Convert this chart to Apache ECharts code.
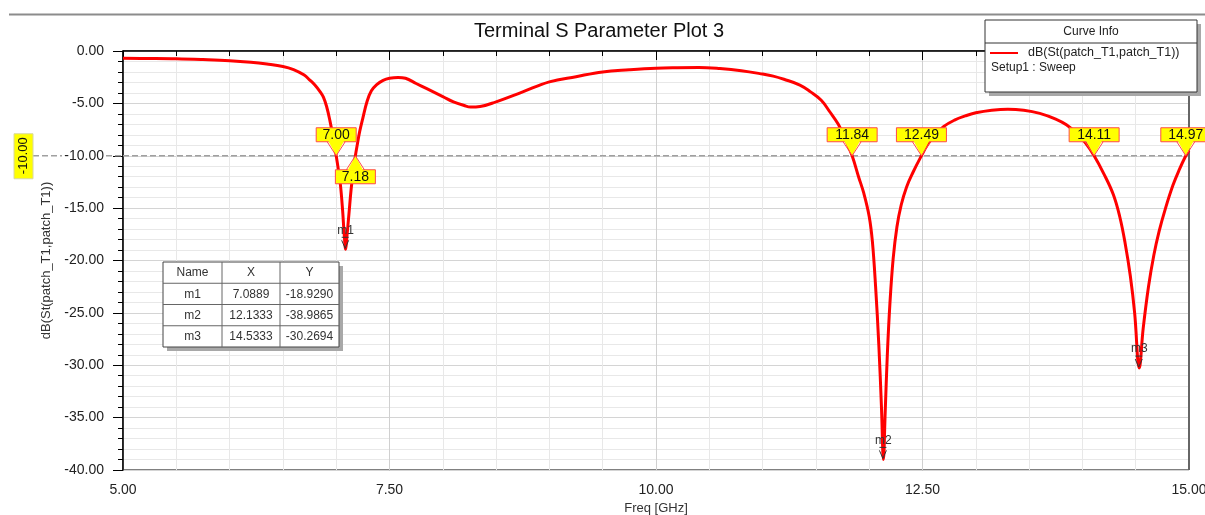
<!DOCTYPE html>
<html>
<head>
<meta charset="utf-8">
<script src="https://cdn.jsdelivr.net/npm/echarts@6/dist/echarts.min.js"></script>
<style>
  html, body { margin: 0; padding: 0; background: #fff; }
  #chart { width: 1205px; height: 515px; }
</style>
</head>
<body>
<div id="chart"></div>
<script>
const FONT = '"Liberation Sans", Arial, Helvetica, sans-serif';

// Swept reflection trace: frequency (GHz) and magnitude (dB)
const freqGHz = [
  5.0, 5.25, 5.5, 5.75, 6.0, 6.2, 6.35, 6.5, 6.6, 6.7, 6.75, 6.8, 6.85, 6.88, 6.91, 6.94, 6.97,
  7.0, 7.02, 7.04, 7.06, 7.075, 7.0889, 7.10, 7.12, 7.14, 7.16, 7.18, 7.2, 7.22, 7.25, 7.29,
  7.33, 7.38, 7.44, 7.5, 7.58, 7.65, 7.75, 7.85, 8.0, 8.1, 8.2, 8.26, 8.35, 8.5, 8.75, 9.0,
  9.25, 9.5, 9.75, 10.0, 10.2, 10.4, 10.6, 10.8, 11.0, 11.1, 11.2, 11.35, 11.45, 11.55, 11.63,
  11.71, 11.78, 11.84, 11.9, 11.95, 12.0, 12.03, 12.06, 12.09, 12.115, 12.1333, 12.15, 12.17,
  12.195, 12.225, 12.26, 12.3, 12.35, 12.41, 12.49, 12.55, 12.62, 12.7, 12.8, 12.9, 13.0,
  13.15, 13.3, 13.45, 13.6, 13.75, 13.85, 13.95, 14.03, 14.11, 14.2, 14.29, 14.35, 14.4, 14.45,
  14.49, 14.5333, 14.57, 14.62, 14.67, 14.72, 14.78, 14.85, 14.91, 14.97, 15.0
];
const s11dB = [
  -0.70, -0.71, -0.74, -0.82, -0.93, -1.08, -1.25, -1.48, -1.78, -2.3, -2.75, -3.25, -3.9, -4.4, -5.3, -6.6, -8.2,
  -10.0, -11.3, -12.8, -15.2, -17.5, -18.929, -17.8, -15.5, -13.2, -11.5, -10.0, -8.8, -7.7, -6.4, -4.8,
  -3.8, -3.2, -2.8, -2.6, -2.52, -2.6, -3.1, -3.6, -4.35, -4.85, -5.2, -5.35, -5.3, -4.85, -3.9, -2.95,
  -2.45, -2.0, -1.8, -1.65, -1.6, -1.58, -1.68, -1.88, -2.2, -2.4, -2.7, -3.25, -3.9, -4.7, -5.8,
  -7.0, -8.5, -10.0, -12.0, -13.6, -15.8, -18.2, -22.5, -28.0, -34.0, -38.9865, -34.5, -29.0,
  -24.0, -19.8, -16.8, -14.7, -13.0, -11.6, -10.0, -8.9, -8.0, -7.2, -6.6, -6.2, -5.9,
  -5.65, -5.55, -5.65, -5.95, -6.5, -7.05, -7.9, -8.8, -10.0, -11.7, -13.7, -15.8, -18.3, -21.5,
  -25.0, -30.2694, -26.5, -22.5, -19.5, -17.2, -15.0, -12.8, -11.3, -10.0, -9.5
];

// -10 dB reference level and the frequencies where the trace crosses it
const thresholdDB = -10;
const crossingFreqs = [7.00, 7.18, 11.84, 12.49, 14.11, 14.97];

// Marker readouts
const markerNames = ['m1', 'm2', 'm3'];
const markerFreq = [7.0889, 12.1333, 14.5333];
const markerDB = [-18.9290, -38.9865, -30.2694];
const tableHeader = ['Name', 'X', 'Y'];

const chartTitle = 'Terminal S Parameter Plot 3';
const traceName = 'dB(St(patch_T1,patch_T1))';
const sweepName = 'Setup1 : Sweep';
const xAxisName = 'Freq [GHz]';

const chart = echarts.init(document.getElementById('chart'), null, { renderer: 'canvas' });

const axisText = { fontFamily: FONT, fontSize: 14, color: '#222' };

chart.setOption({
  animation: false,
  backgroundColor: '#fff',
  title: {
    text: chartTitle,
    left: 469,
    top: 16,
    textStyle: { fontFamily: FONT, fontSize: 20, fontWeight: 'normal', color: '#111' }
  },
  grid: {
    left: 123, right: 16, top: 51, bottom: 45,
    outerBoundsMode: 'none',
    containLabel: false,
    show: true, borderColor: '#000', borderWidth: 1
  },
  xAxis: {
    type: 'value', min: 5, max: 15, interval: 2.5,
    name: xAxisName, nameLocation: 'middle', nameGap: 30,
    nameTextStyle: { fontFamily: FONT, fontSize: 13, color: '#333' },
    axisLine: { show: true, lineStyle: { color: '#000', width: 1.5 } },
    axisTick: { show: true, length: 9, lineStyle: { color: '#000' } },
    minorTick: { show: true, splitNumber: 5, length: 5, lineStyle: { color: '#000' } },
    axisLabel: Object.assign({ margin: 13, showMaxLabel: true, showMinLabel: true,
      formatter: v => v.toFixed(2) }, axisText),
    splitLine: { show: true, lineStyle: { color: '#d0d0d0' } },
    minorSplitLine: { show: true, lineStyle: { color: '#e8e8e8' } }
  },
  yAxis: {
    type: 'value', min: -40, max: 0, interval: 5,
    name: traceName, nameLocation: 'middle', nameGap: 65,
    nameTextStyle: { fontFamily: FONT, fontSize: 13, color: '#333' },
    axisLine: { show: true, lineStyle: { color: '#000', width: 1.5 } },
    axisTick: { show: true, length: 10, lineStyle: { color: '#000' } },
    minorTick: { show: true, splitNumber: 5, length: 5, lineStyle: { color: '#000' } },
    axisLabel: Object.assign({ margin: 19, formatter: v => v.toFixed(2) }, axisText),
    splitLine: { show: true, lineStyle: { color: '#d4d4d4' } },
    minorSplitLine: { show: true, lineStyle: { color: '#e8e8e8' } }
  },
  series: [{
    type: 'line',
    name: traceName,
    data: freqGHz.map((f, i) => [f, s11dB[i]]),
    showSymbol: false,
    smooth: 0.4,
    lineStyle: { color: '#ff0000', width: 3 },
    z: 3
  }]
});

// Overlay: reference line, crossing callouts, markers, readout table and curve info box
const px = (f, d) => chart.convertToPixel({ gridIndex: 0 }, [f, d]);
const g = [];

// outer frame line across the top of the window
g.push({ type: 'line', shape: { x1: 9, y1: 14.5, x2: 1205, y2: 14.5 },
  style: { stroke: '#8c8c8c', lineWidth: 2 }, z: 1 });

// right edge of the plot area
const [rx, ryTop] = px(15, 0);
const [, ryBot] = px(15, -40);
g.push({ type: 'line', shape: { x1: rx, y1: ryTop, x2: rx, y2: ryBot },
  style: { stroke: '#666', lineWidth: 2 }, z: 2 });

// -10 dB dashed reference line (inside and left of the plot)
const [x0, ty] = px(5, thresholdDB);
const dash = { stroke: '#a0a0a0', lineWidth: 1.6, lineDash: [6, 3] };
g.push({ type: 'line', shape: { x1: x0, y1: ty, x2: rx, y2: ty }, style: dash, z: 1 });
g.push({ type: 'line', shape: { x1: 33, y1: ty, x2: 62, y2: ty }, style: dash, z: 1 });
g.push({ type: 'line', shape: { x1: 106, y1: ty, x2: x0, y2: ty }, style: dash, z: 1 });

// yellow tag with the reference level, written vertically
g.push({ type: 'rect', shape: { x: 14, y: ty - 22, width: 19, height: 45 },
  style: { fill: '#ffff00', stroke: '#d8d8a0', lineWidth: 1 }, z: 5 });
g.push({ type: 'text', x: 23.5, y: ty, rotation: Math.PI / 2,
  style: { text: thresholdDB.toFixed(2), fontFamily: FONT, fontSize: 13, fill: '#111',
    align: 'center', verticalAlign: 'middle' }, z: 6 });

// crossing callouts
crossingFreqs.forEach((f, i) => {
  const [tx, cy] = px(f, thresholdDB);
  const below = i > 0 && f - crossingFreqs[i - 1] < 0.3;
  const label = f.toFixed(2);
  const w = label.length > 4 ? 50 : 40;
  const h = 14, gap = 14, half = 9;
  const boxTop = below ? cy + gap : cy - gap - h;
  const baseY = below ? boxTop : boxTop + h;
  const inset = below ? 1 : -1;
  g.push({ type: 'rect', shape: { x: tx - w / 2, y: boxTop, width: w, height: h },
    style: { fill: '#ffff00', stroke: '#ff4a4a', lineWidth: 1 }, z: 20 });
  g.push({ type: 'polygon', shape: { points: [[tx - half + 1, baseY + inset], [tx + half - 1, baseY + inset], [tx, cy]] },
    style: { fill: '#ffff00' }, z: 21 });
  g.push({ type: 'polyline', shape: { points: [[tx - half, baseY], [tx, cy], [tx + half, baseY]] },
    style: { stroke: '#ff4a4a', lineWidth: 1, fill: null }, z: 22 });
  g.push({ type: 'text', x: tx, y: boxTop + h / 2 + 0.5,
    style: { text: label, fontFamily: FONT, fontSize: 14, fill: '#111',
      align: 'center', verticalAlign: 'middle' }, z: 23 });
});

// marker flags at the minima
markerNames.forEach((name, i) => {
  const [mx, my] = px(markerFreq[i], markerDB[i]);
  g.push({ type: 'text', x: mx, y: my - 19,
    style: { text: name, fontFamily: FONT, fontSize: 12, fill: '#333',
      align: 'center', verticalAlign: 'middle' }, z: 15 });
  g.push({ type: 'line', shape: { x1: mx - 4, y1: my - 12, x2: mx + 3, y2: my - 12 },
    style: { stroke: '#333', lineWidth: 1 }, z: 15 });
  g.push({ type: 'polyline', shape: { points: [[mx - 4, my - 9], [mx - 0.5, my - 1], [mx + 3, my - 9]] },
    style: { stroke: '#333', lineWidth: 1, fill: null }, z: 15 });
});

// marker readout table
(function () {
  const ox = 163, oy = 262, colW = [59, 58, 59], rowH = 21.25;
  const W = colW.reduce((a, b) => a + b, 0), H = rowH * (markerNames.length + 1);
  g.push({ type: 'rect', shape: { x: ox + 4, y: oy + 4, width: W, height: H },
    style: { fill: '#a8a8a8' }, z: 12 });
  g.push({ type: 'rect', shape: { x: ox, y: oy, width: W, height: H },
    style: { fill: '#fff', stroke: '#444', lineWidth: 1 }, z: 13 });
  let cx = ox;
  for (let c = 0; c < colW.length - 1; c++) {
    cx += colW[c];
    g.push({ type: 'line', shape: { x1: cx, y1: oy, x2: cx, y2: oy + H },
      style: { stroke: '#666', lineWidth: 1 }, z: 14 });
  }
  for (let r = 1; r <= markerNames.length; r++) {
    g.push({ type: 'line', shape: { x1: ox, y1: oy + r * rowH, x2: ox + W, y2: oy + r * rowH },
      style: { stroke: '#666', lineWidth: 1 }, z: 14 });
  }
  const rows = [tableHeader].concat(markerNames.map((n, i) =>
    [n, markerFreq[i].toFixed(4), markerDB[i].toFixed(4)]));
  rows.forEach((row, r) => {
    let x = ox;
    row.forEach((cell, c) => {
      g.push({ type: 'text', x: x + colW[c] / 2, y: oy + r * rowH + rowH / 2 + 0.5,
        style: { text: cell, fontFamily: FONT, fontSize: 12, fill: '#333',
          align: 'center', verticalAlign: 'middle' }, z: 15 });
      x += colW[c];
    });
  });
})();

// curve info box
(function () {
  const bx = 985, by = 20, bw = 212, bh = 72;
  g.push({ type: 'rect', shape: { x: bx + 4, y: by + 4, width: bw, height: bh },
    style: { fill: '#a8a8a8' }, z: 30 });
  g.push({ type: 'rect', shape: { x: bx, y: by, width: bw, height: bh },
    style: { fill: '#fff', stroke: '#333', lineWidth: 1 }, z: 31 });
  g.push({ type: 'line', shape: { x1: bx, y1: by + 23, x2: bx + bw, y2: by + 23 },
    style: { stroke: '#333', lineWidth: 1 }, z: 32 });
  g.push({ type: 'text', x: bx + bw / 2, y: by + 12,
    style: { text: 'Curve Info', fontFamily: FONT, fontSize: 12, fill: '#222',
      align: 'center', verticalAlign: 'middle' }, z: 32 });
  g.push({ type: 'line', shape: { x1: bx + 5, y1: by + 33, x2: bx + 33, y2: by + 33 },
    style: { stroke: '#ff0000', lineWidth: 2 }, z: 32 });
  g.push({ type: 'text', x: bx + 43, y: by + 33,
    style: { text: traceName, fontFamily: FONT, fontSize: 12.5, fill: '#222',
      align: 'left', verticalAlign: 'middle' }, z: 32 });
  g.push({ type: 'text', x: bx + 6, y: by + 48,
    style: { text: sweepName, fontFamily: FONT, fontSize: 12, fill: '#222',
      align: 'left', verticalAlign: 'middle' }, z: 32 });
})();

chart.setOption({ graphic: { elements: g } });
</script>
</body>
</html>
